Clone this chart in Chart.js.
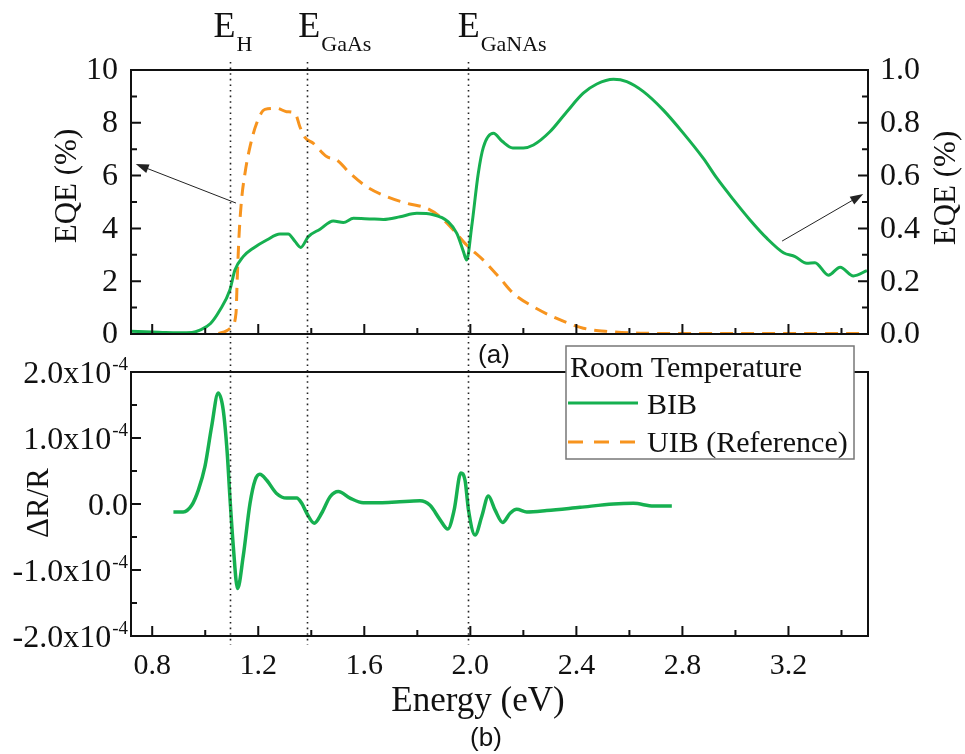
<!DOCTYPE html>
<html>
<head>
<meta charset="utf-8">
<script src="https://cdn.jsdelivr.net/npm/chart.js@4.4.0/dist/chart.umd.min.js"></script>
<style>
  body { margin: 0; background: #fff; }
  #wrap { position: relative; width: 965px; height: 754px; }
  #wrap canvas { position: absolute; left: 0; top: 0; }
</style>
</head>
<body>
<div id="wrap">
  <canvas id="eqe" width="965" height="754"></canvas>
  <canvas id="dr" width="965" height="754"></canvas>
</div>
<script>
// --- data ---
const energyTicks = [0.8, 1.2, 1.6, 2.0, 2.4, 2.8, 3.2];
const eqeLeftTicks = [0, 2, 4, 6, 8, 10];
const eqeRightTicks = [0, 0.2, 0.4, 0.6, 0.8, 1.0];
const drTicks = [-2, -1, 0, 1, 2]; // units of 10^-4

// BIB EQE, right axis (%)
const bibEnergy = [0.72,0.80,0.85,0.90,0.95,0.98,1.02,1.055,1.093,1.112,1.143,1.181,1.232,1.282,1.313,1.339,
  1.36,1.389,1.433,1.483,1.521,1.559,1.62,1.672,1.735,1.798,1.86,1.917,1.949,1.974,1.986,2.005,2.03,2.049,2.087,2.12,
  2.16,2.2,2.238,2.30,2.364,2.426,2.477,2.54,2.59,2.653,2.728,2.804,2.879,2.93,2.993,3.055,3.118,3.181,3.225,3.269,
  3.30,3.351,3.395,3.445,3.496];
const bibEqe = [0.010,0.008,0.006,0.005,0.006,0.015,0.040,0.090,0.167,0.242,0.293,0.325,0.356,0.379,0.379,0.350,
  0.328,0.369,0.397,0.428,0.422,0.438,0.436,0.434,0.444,0.457,0.452,0.425,0.381,0.312,0.280,0.406,0.609,0.707,0.760,0.730,
  0.705,0.705,0.716,0.766,0.842,0.912,0.947,0.965,0.956,0.918,0.848,0.760,0.665,0.590,0.508,0.432,0.363,0.308,0.293,0.268,
  0.270,0.223,0.253,0.220,0.240];

// UIB (reference) EQE, left axis (%)
const uibEnergy = [1.05,1.08,1.10,1.116,1.121,1.128,1.137,1.15,1.169,1.194,1.225,1.27,1.307,1.339,1.357,1.376,1.408,
  1.458,1.496,1.546,1.609,1.685,1.76,1.836,1.886,1.936,1.986,2.049,2.112,2.162,2.238,2.326,2.426,2.527,2.64,2.8,3.0,3.2,3.5];
const uibEqe = [0.02,0.12,0.28,0.78,2.17,3.81,5.08,6.09,7.1,7.98,8.51,8.55,8.42,8.36,7.85,7.45,7.22,
  6.72,6.59,6.09,5.58,5.2,4.95,4.76,4.44,3.94,3.37,2.8,2.11,1.54,1.03,0.59,0.22,0.09,0.03,0.02,0.02,0.02,0.02];

// dR/R, units of 10^-4
const drEnergy = [0.88,0.917,0.949,0.974,0.999,1.024,1.049,1.068,1.083,1.093,1.106,1.122,1.143,1.169,1.188,1.206,
  1.232,1.269,1.307,1.345,1.364,1.383,1.411,1.439,1.471,1.502,1.546,1.596,1.659,1.72,1.81,1.848,1.886,1.915,1.939,1.964,
  1.98,1.993,2.018,2.043,2.068,2.093,2.122,2.15,2.175,2.213,2.288,2.414,2.54,2.615,2.691,2.76];
const drValue = [-0.12,-0.12,-0.02,0.21,0.57,1.17,1.68,1.42,0.77,0.11,-0.65,-1.28,-0.80,0.01,0.36,0.45,
  0.36,0.16,0.09,0.09,0.01,-0.14,-0.29,-0.14,0.11,0.19,0.09,0.02,0.02,0.03,0.05,-0.02,-0.24,-0.38,-0.09,0.47,
  0.36,-0.09,-0.47,-0.19,0.12,-0.09,-0.28,-0.14,-0.08,-0.12,-0.10,-0.05,0.0,0.01,-0.03,-0.03];

// band-gap markers
const markerEnergy = [1.095, 1.385, 1.99];
const markerSub = ['H', 'GaAs', 'GaNAs'];

// --- layout / style ---
const W = 965, H = 754;
const PLOT_L = 131, PLOT_R = 868;
const TOP_T = 70, TOP_B = 334, BOT_T = 372, BOT_B = 636;
const SERIF = "'Liberation Serif','Times New Roman',serif";
const SANS = "'Liberation Sans',Arial,sans-serif";
const GREEN = '#16b050', ORANGE = '#f7941e', INK = '#111';
const X_MIN = 0.72, X_MAX = 3.5;

const pts = (xs, ys) => xs.map((x, i) => ({ x: x, y: ys[i] }));

function minorOf(values, min, max) {
  const out = [];
  for (let i = 0; i < values.length - 1; i++) out.push((values[i] + values[i + 1]) / 2);
  const step = values[1] - values[0];
  if (values[0] - step / 2 >= min) out.push(values[0] - step / 2);
  const last = values[values.length - 1];
  if (last + step / 2 <= max) out.push(last + step / 2);
  return out;
}

function xTickMarks(ctx, scale, area) {
  ctx.beginPath();
  energyTicks.forEach(v => { const p = scale.getPixelForValue(v); ctx.moveTo(p, area.bottom); ctx.lineTo(p, area.bottom - 10); });
  minorOf(energyTicks, X_MIN, X_MAX).forEach(v => { const p = scale.getPixelForValue(v); ctx.moveTo(p, area.bottom); ctx.lineTo(p, area.bottom - 6); });
  ctx.stroke();
}

function yTickMarks(ctx, scale, x0, dir, values) {
  ctx.beginPath();
  values.forEach(v => { const p = scale.getPixelForValue(v); ctx.moveTo(x0, p); ctx.lineTo(x0 + dir * 10, p); });
  minorOf(values, scale.min, scale.max).forEach(v => { const p = scale.getPixelForValue(v); ctx.moveTo(x0, p); ctx.lineTo(x0 + dir * 6, p); });
  ctx.stroke();
}

function rotText(ctx, txt, x, y, font) {
  ctx.save();
  ctx.translate(x, y);
  ctx.rotate(-Math.PI / 2);
  ctx.font = font;
  ctx.textAlign = 'center';
  ctx.textBaseline = 'middle';
  ctx.fillText(txt, 0, 0);
  ctx.restore();
}

function arrow(ctx, x1, y1, x2, y2) {
  const a = Math.atan2(y2 - y1, x2 - x1);
  ctx.beginPath();
  ctx.moveTo(x1, y1);
  ctx.lineTo(x2 - 10 * Math.cos(a), y2 - 10 * Math.sin(a));
  ctx.stroke();
  ctx.beginPath();
  ctx.moveTo(x2, y2);
  ctx.lineTo(x2 - 13 * Math.cos(a) + 4.5 * Math.sin(a), y2 - 13 * Math.sin(a) - 4.5 * Math.cos(a));
  ctx.lineTo(x2 - 13 * Math.cos(a) - 4.5 * Math.sin(a), y2 - 13 * Math.sin(a) + 4.5 * Math.cos(a));
  ctx.closePath();
  ctx.fill();
}

const baseOptions = (padTop, padBottom, scales) => ({
  responsive: false,
  animation: false,
  devicePixelRatio: 1,
  events: [],
  layout: { padding: { left: PLOT_L, right: W - PLOT_R, top: padTop, bottom: padBottom } },
  plugins: { legend: { display: false }, tooltip: { enabled: false } },
  scales: scales
});

// top panel: EQE
const eqeDecor = {
  id: 'eqeDecor',
  afterDatasetsDraw(chart) {
    const ctx = chart.ctx, a = chart.chartArea;
    const sx = chart.scales.x, yl = chart.scales.yL, yr = chart.scales.yR;
    ctx.save();
    ctx.strokeStyle = INK; ctx.fillStyle = INK; ctx.lineWidth = 2;
    ctx.strokeRect(a.left, a.top, a.width, a.height);
    xTickMarks(ctx, sx, a);
    yTickMarks(ctx, yl, a.left, 1, eqeLeftTicks);
    yTickMarks(ctx, yr, a.right, -1, eqeRightTicks);

    ctx.font = '32px ' + SERIF;
    ctx.textBaseline = 'middle';
    ctx.textAlign = 'right';
    eqeLeftTicks.forEach(v => ctx.fillText(String(v), a.left - 13, yl.getPixelForValue(v) + 1));
    ctx.textAlign = 'left';
    eqeRightTicks.forEach(v => ctx.fillText(v.toFixed(1), a.right + 12, yr.getPixelForValue(v) + 1));

    rotText(ctx, 'EQE (%)', 68, 186, '31px ' + SERIF);
    rotText(ctx, 'EQE (%)', 947, 188, '31px ' + SERIF);

    // band-gap labels
    const offs = [-17, -9, -10];
    ctx.textAlign = 'left'; ctx.textBaseline = 'alphabetic';
    markerEnergy.forEach((e, i) => {
      const x = sx.getPixelForValue(e) + offs[i];
      ctx.font = '36px ' + SERIF;
      ctx.fillText('E', x, 37);
      const w = ctx.measureText('E').width;
      ctx.font = '22px ' + SERIF;
      ctx.fillText(markerSub[i], x + w + 1, 51);
    });

    // arrows pointing to the axis each curve belongs to
    ctx.lineWidth = 1; ctx.strokeStyle = '#222'; ctx.fillStyle = '#222';
    arrow(ctx, sx.getPixelForValue(1.116), yl.getPixelForValue(4.96), sx.getPixelForValue(0.738), yl.getPixelForValue(6.44));
    arrow(ctx, sx.getPixelForValue(3.176), yr.getPixelForValue(0.352), sx.getPixelForValue(3.482), yr.getPixelForValue(0.53));

    ctx.fillStyle = INK;
    ctx.font = '26px ' + SANS;
    ctx.textAlign = 'center'; ctx.textBaseline = 'middle';
    ctx.fillText('(a)', 494, 356);
    ctx.restore();
  }
};

new Chart(document.getElementById('eqe'), {
  type: 'line',
  data: {
    datasets: [
      { label: 'BIB', data: pts(bibEnergy, bibEqe), yAxisID: 'yR', borderColor: GREEN, borderWidth: 3,
        pointRadius: 0, cubicInterpolationMode: 'monotone', fill: false, order: 0 },
      { label: 'UIB (Reference)', data: pts(uibEnergy, uibEqe), yAxisID: 'yL', borderColor: ORANGE, borderWidth: 3,
        borderDash: [13, 8], pointRadius: 0, cubicInterpolationMode: 'monotone', fill: false, order: 1 }
    ]
  },
  options: baseOptions(TOP_T, H - TOP_B, {
    x: { type: 'linear', min: X_MIN, max: X_MAX, display: false },
    yL: { type: 'linear', position: 'left', min: 0, max: 10, display: false },
    yR: { type: 'linear', position: 'right', min: 0, max: 1, display: false }
  }),
  plugins: [eqeDecor]
});

// bottom panel: dR/R
function supLabel(ctx, base, sup, rightX, y) {
  ctx.font = '32px ' + SERIF;
  const wb = ctx.measureText(base).width;
  ctx.font = '19px ' + SERIF;
  const ws = sup ? ctx.measureText(sup).width + 1 : 0;
  const x0 = rightX - wb - ws;
  ctx.textAlign = 'left'; ctx.textBaseline = 'middle';
  ctx.font = '32px ' + SERIF;
  ctx.fillText(base, x0, y + 3);
  if (sup) { ctx.font = '19px ' + SERIF; ctx.fillText(sup, x0 + wb + 1, y - 7); }
}

const drDecor = {
  id: 'drDecor',
  afterDatasetsDraw(chart) {
    const ctx = chart.ctx, a = chart.chartArea;
    const sx = chart.scales.x, sy = chart.scales.y;
    ctx.save();
    ctx.strokeStyle = INK; ctx.fillStyle = INK; ctx.lineWidth = 2;
    ctx.strokeRect(a.left, a.top, a.width, a.height);
    xTickMarks(ctx, sx, a);
    yTickMarks(ctx, sy, a.left, 1, drTicks);

    drTicks.forEach(v => {
      const y = sy.getPixelForValue(v);
      if (v === 0) supLabel(ctx, '0.0', '', 128, y);
      else supLabel(ctx, (v < 0 ? '-' : '') + Math.abs(v).toFixed(1) + 'x10', '-4', 128, y);
    });

    ctx.font = '30px ' + SERIF;
    ctx.textAlign = 'center'; ctx.textBaseline = 'middle';
    energyTicks.forEach(v => ctx.fillText(v.toFixed(1), sx.getPixelForValue(v), 666));

    ctx.font = '35px ' + SERIF;
    ctx.textBaseline = 'alphabetic';
    ctx.fillText('Energy (eV)', 478, 711);
    rotText(ctx, '\u0394R/R', 40, 503, '31px ' + SERIF);

    ctx.font = '26px ' + SANS;
    ctx.textBaseline = 'middle';
    ctx.fillText('(b)', 486, 739);

    // dotted band-gap lines across both panels
    ctx.lineWidth = 1.6; ctx.strokeStyle = '#222'; ctx.setLineDash([1.6, 4]);
    markerEnergy.forEach(e => {
      const x = Math.round(sx.getPixelForValue(e)) + 0.5;
      ctx.beginPath(); ctx.moveTo(x, 62); ctx.lineTo(x, 645); ctx.stroke();
    });
    ctx.setLineDash([]);

    // legend
    ctx.fillStyle = '#fff';
    ctx.fillRect(566, 346, 288, 113);
    ctx.lineWidth = 1.5; ctx.strokeStyle = '#777';
    ctx.strokeRect(566, 346, 288, 113);
    ctx.fillStyle = INK;
    ctx.font = '30px ' + SERIF;
    ctx.textAlign = 'left'; ctx.textBaseline = 'alphabetic';
    ctx.fillText('Room Temperature', 570, 377);
    ctx.fillText('BIB', 647, 414);
    ctx.fillText('UIB (Reference)', 647, 452);
    ctx.lineWidth = 3;
    ctx.strokeStyle = GREEN;
    ctx.beginPath(); ctx.moveTo(568, 403); ctx.lineTo(638, 403); ctx.stroke();
    ctx.strokeStyle = ORANGE; ctx.setLineDash([15, 11]);
    ctx.beginPath(); ctx.moveTo(568, 442); ctx.lineTo(638, 442); ctx.stroke();
    ctx.restore();
  }
};

new Chart(document.getElementById('dr'), {
  type: 'line',
  data: {
    datasets: [
      { label: 'BIB', data: pts(drEnergy, drValue), borderColor: GREEN, borderWidth: 3.5,
        pointRadius: 0, cubicInterpolationMode: 'monotone', fill: false }
    ]
  },
  options: baseOptions(BOT_T, H - BOT_B, {
    x: { type: 'linear', min: X_MIN, max: X_MAX, display: false },
    y: { type: 'linear', min: -2, max: 2, display: false }
  }),
  plugins: [drDecor]
});
</script>
</body>
</html>
